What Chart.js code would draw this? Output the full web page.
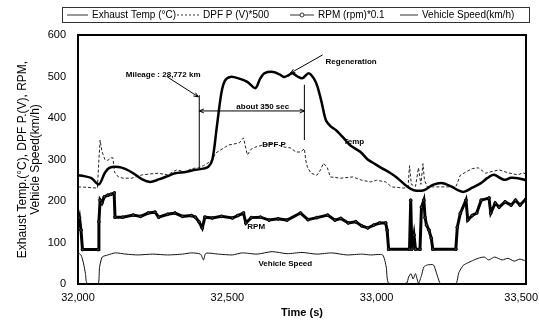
<!DOCTYPE html>
<html>
<head>
<meta charset="utf-8">
<script src="https://cdn.jsdelivr.net/npm/chart.js@4/dist/chart.umd.min.js"></script>
<style>
  html, body { margin: 0; padding: 0; background: #fff; }
  #wrap { width: 539px; height: 320px; }
</style>
</head>
<body>
<div id="wrap"><canvas id="regenChart" width="539" height="320"></canvas></div>
<script>
// valores (tempo em s)
const tempTime = [32000, 32020, 32045, 32070, 32090, 32105, 32135, 32160, 32185, 32215, 32242, 32270, 32300, 32325, 32360, 32393, 32420, 32436, 32450, 32465, 32480, 32492, 32510, 32540, 32567, 32594, 32610, 32625, 32654, 32675, 32690, 32705, 32718, 32735, 32752, 32772, 32790, 32802, 32815, 32830, 32846, 32865, 32889, 32910, 32946, 32970, 32990, 33015, 33047, 33070, 33100, 33124, 33158, 33188, 33221, 33250, 33272, 33292, 33320, 33349, 33370, 33393, 33426, 33450, 33473, 33500];
const tempVals = [262, 260, 255, 240, 268, 280, 282, 277, 267, 252, 246, 252, 260, 267, 270, 275, 278, 282, 300, 380, 460, 490, 499, 495, 487, 472, 495, 508, 511, 505, 499, 503, 508, 500, 496, 508, 495, 475, 440, 395, 380, 370, 352, 335, 318, 300, 291, 280, 267, 255, 236, 226, 226, 239, 243, 235, 226, 222, 232, 243, 255, 263, 251, 256, 255, 250];

const dpfTime = [32000, 32030, 32065, 32070, 32074, 32080, 32090, 32100, 32110, 32117, 32122, 32135, 32150, 32180, 32215, 32240, 32268, 32300, 32330, 32360, 32380, 32403, 32420, 32436, 32450, 32460, 32475, 32493, 32505, 32520, 32540, 32554, 32567, 32580, 32595, 32620, 32645, 32670, 32690, 32711, 32730, 32745, 32758, 32762, 32768, 32780, 32800, 32812, 32822, 32835, 32845, 32880, 32920, 32950, 32980, 33000, 33030, 33050, 33091, 33105, 33110, 33116, 33130, 33140, 33148, 33155, 33160, 33170, 33230, 33265, 33280, 33299, 33320, 33340, 33365, 33380, 33410, 33440, 33473, 33490, 33500];
const dpfVals = [234, 233, 231, 300, 347, 320, 300, 298, 304, 304, 270, 258, 255, 255, 263, 265, 267, 263, 275, 270, 278, 280, 285, 292, 300, 315, 322, 330, 335, 337, 340, 352, 311, 325, 330, 335, 338, 335, 330, 328, 318, 318, 326, 300, 282, 267, 262, 275, 291, 280, 258, 255, 258, 250, 246, 250, 246, 234, 231, 234, 285, 240, 235, 280, 240, 290, 250, 234, 234, 234, 262, 270, 278, 280, 267, 270, 275, 268, 263, 268, 265];

const rpmTime = [32000, 32005, 32010, 32015, 32067, 32070, 32074, 32080, 32088, 32100, 32110, 32121, 32124, 32150, 32185, 32210, 32235, 32258, 32270, 32300, 32325, 32350, 32380, 32393, 32405, 32416, 32425, 32450, 32480, 32517, 32535, 32554, 32562, 32580, 32611, 32640, 32670, 32700, 32745, 32770, 32800, 32836, 32860, 32880, 32905, 32930, 32950, 32970, 32990, 33010, 33030, 33035, 33040, 33110, 33114, 33118, 33125, 33130, 33145, 33150, 33158, 33162, 33167, 33175, 33183, 33188, 33265, 33270, 33280, 33299, 33305, 33320, 33335, 33350, 33376, 33382, 33397, 33410, 33430, 33450, 33465, 33480, 33500];
const rpmVals = [145, 160, 130, 83, 83, 150, 202, 195, 210, 214, 216, 219, 161, 161, 166, 163, 171, 173, 161, 168, 171, 163, 165, 161, 150, 135, 161, 159, 163, 159, 165, 171, 147, 160, 161, 154, 157, 154, 171, 155, 160, 166, 154, 158, 147, 150, 140, 135, 142, 147, 147, 130, 84, 84, 202, 84, 118, 84, 84, 185, 202, 160, 142, 130, 110, 84, 84, 137, 170, 202, 154, 165, 171, 202, 207, 171, 195, 185, 198, 190, 202, 190, 205];

const speedTime = [32000, 32010, 32018, 32025, 32030, 32067, 32072, 32081, 32100, 32125, 32160, 32200, 32250, 32300, 32350, 32380, 32410, 32420, 32428, 32470, 32517, 32550, 32600, 32650, 32700, 32750, 32800, 32850, 32900, 32950, 32980, 33020, 33032, 33040, 33100, 33107, 33115, 33122, 33130, 33140, 33150, 33158, 33170, 33190, 33200, 33210, 33215, 33265, 33275, 33290, 33305, 33320, 33340, 33360, 33375, 33395, 33420, 33440, 33460, 33480, 33500];
const speedVals = [75, 70, 51, 25, 2, 0, 40, 65, 70, 75, 72, 70, 72, 70, 72, 75, 72, 58, 74, 72, 70, 75, 72, 78, 73, 76, 72, 75, 70, 72, 70, 70, 41, 2, 2, 17, 25, 12, 25, 2, 20, 41, 46, 46, 27, 5, 0, 0, 27, 45, 51, 56, 62, 65, 58, 65, 58, 62, 55, 60, 55];

const xTicks = [32000, 32500, 33000, 33500];
const yTicks = [0, 100, 200, 300, 400, 500, 600];

function pares(ts, vs) {
    return ts.map((t, i) => ({ x: t, y: vs[i] }));
}

// legenda em caixa no topo
const legendaTopo = {
    id: 'legendaTopo',
    afterDraw(chart) {
        const ctx = chart.ctx;
        ctx.save();
        ctx.strokeStyle = '#333';
        ctx.lineWidth = 1;
        ctx.strokeRect(62.5, 7.5, 467, 15);
        ctx.font = '10px "Liberation Sans", Arial, sans-serif';
        ctx.fillStyle = '#000';
        ctx.textBaseline = 'middle';
        const itens = [
            { x: 67, w: 21, texto: 'Exhaust Temp (°C)', dash: [], mark: false },
            { x: 177, w: 22, texto: 'DPF P (V)*500', dash: [2, 2], mark: false },
            { x: 290, w: 24, texto: 'RPM (rpm)*0.1', dash: [], mark: true },
            { x: 400, w: 18, texto: 'Vehicle Speed(km/h)', dash: [], mark: false }
        ];
        itens.forEach(it => {
            ctx.beginPath();
            ctx.setLineDash(it.dash);
            ctx.moveTo(it.x, 15);
            ctx.lineTo(it.x + it.w, 15);
            ctx.stroke();
            ctx.setLineDash([]);
            if (it.mark) {
                ctx.beginPath();
                ctx.fillStyle = '#fff';
                ctx.arc(it.x + it.w / 2, 15, 2, 0, Math.PI * 2);
                ctx.fill();
                ctx.stroke();
                ctx.fillStyle = '#000';
            }
            ctx.fillText(it.texto, it.x + it.w + 4, 15.5);
        });
        ctx.restore();
    }
};

// anotações: setas, textos, moldura, rótulos do eixo x
const anotacoes = {
    id: 'anotacoes',
    afterDatasetsDraw(chart) {
        const ctx = chart.ctx;
        const xs = chart.scales.x, ys = chart.scales.y;
        const px = t => xs.getPixelForValue(t);
        const py = v => ys.getPixelForValue(v);
        const a = chart.chartArea;

        function seta(x1, y1, x2, y2) {
            ctx.beginPath();
            ctx.moveTo(x1, y1);
            ctx.lineTo(x2, y2);
            ctx.stroke();
            const ang = Math.atan2(y2 - y1, x2 - x1);
            ctx.beginPath();
            ctx.moveTo(x2, y2);
            ctx.lineTo(x2 - 5 * Math.cos(ang - 0.4), y2 - 5 * Math.sin(ang - 0.4));
            ctx.moveTo(x2, y2);
            ctx.lineTo(x2 - 5 * Math.cos(ang + 0.4), y2 - 5 * Math.sin(ang + 0.4));
            ctx.stroke();
        }

        ctx.save();
        ctx.strokeStyle = '#000';
        ctx.fillStyle = '#000';
        ctx.lineWidth = 1;

        // linhas verticais de início/fim da regeneração
        ctx.beginPath();
        ctx.moveTo(px(32406), py(455));
        ctx.lineTo(px(32406), py(280));
        ctx.moveTo(px(32758), py(480));
        ctx.lineTo(px(32758), py(347));
        ctx.stroke();

        // seta dupla ~350 s
        seta(px(32582), py(417), px(32406), py(417));
        seta(px(32582), py(417), px(32758), py(417));

        seta(px(32299), py(499), px(32403), py(451));
        seta(px(32819), py(552), px(32711), py(508));

        ctx.font = 'bold 8px "Liberation Sans", Arial, sans-serif';
        ctx.textBaseline = 'middle';
        ctx.textAlign = 'left';
        ctx.fillText('Mileage : 28,772 km', px(32160), py(504));
        ctx.fillText('Regeneration', px(32829), py(535));
        ctx.fillText('about 350 sec', px(32530), py(428));
        ctx.fillText('DPF P', px(32617), py(335));
        ctx.fillText('Temp', px(32889), py(342));
        ctx.fillText('RPM', px(32567), py(137));
        ctx.fillText('Vehicle Speed', px(32604), py(48));

        // rótulos do eixo x (o último não pode sair da tela)
        ctx.font = '11px "Liberation Sans", Arial, sans-serif';
        ctx.textBaseline = 'top';
        ctx.textAlign = 'center';
        xTicks.forEach(t => {
            const txt = t.toLocaleString('en-US');
            const w = ctx.measureText(txt).width;
            const cx = Math.min(px(t), chart.width - 1 - w / 2);
            ctx.fillText(txt, cx, a.bottom + 8);
        });

        // moldura
        ctx.lineWidth = 2;
        ctx.strokeRect(a.left, a.top, a.right - a.left, a.bottom - a.top);
        ctx.restore();
    }
};

document.addEventListener('DOMContentLoaded', function () {
    const ctx = document.getElementById('regenChart').getContext('2d');
    new Chart(ctx, {
        type: 'line',
        data: {
            datasets: [{
                label: 'Exhaust Temp (°C)',
                data: pares(tempTime, tempVals),
                borderColor: '#000',
                borderWidth: 2.5,
                pointRadius: 0,
                tension: 0.3
            }, {
                label: 'DPF P (V)*500',
                data: pares(dpfTime, dpfVals),
                borderColor: '#222',
                borderWidth: 1,
                borderDash: [3, 2],
                pointRadius: 0,
                tension: 0
            }, {
                label: 'RPM (rpm)*0.1',
                data: pares(rpmTime, rpmVals),
                borderColor: '#000',
                borderWidth: 3,
                pointRadius: 1.4,
                pointBackgroundColor: '#444',
                pointBorderColor: '#000',
                pointBorderWidth: 1,
                tension: 0
            }, {
                label: 'Vehicle Speed(km/h)',
                data: pares(speedTime, speedVals),
                borderColor: '#111',
                borderWidth: 1,
                pointRadius: 0,
                tension: 0.2
            }]
        },
        options: {
            responsive: false,
            animation: false,
            layout: { padding: { top: 35, right: 13, left: 0, bottom: 0 } },
            plugins: { legend: { display: false }, tooltip: { enabled: false } },
            scales: {
                x: {
                    type: 'linear',
                    min: 32000,
                    max: 33500,
                    afterBuildTicks: axis => { axis.ticks = xTicks.map(v => ({ value: v })); },
                    afterFit: axis => {
                        axis.height = 36;
                        axis.paddingLeft = 0;
                        axis.paddingRight = 0;
                    },
                    grid: { display: false, drawTicks: false },
                    border: { display: false },
                    ticks: { display: false },
                    title: {
                        display: true,
                        text: 'Time (s)',
                        color: '#000',
                        padding: { top: 0, bottom: 0 },
                        font: { family: '"Liberation Sans", Arial', size: 11, weight: 'bold' }
                    }
                },
                y: {
                    min: 0,
                    max: 600,
                    afterBuildTicks: axis => { axis.ticks = yTicks.map(v => ({ value: v })); },
                    afterFit: axis => {
                        axis.width = 78;
                        axis.paddingTop = 0;
                        axis.paddingBottom = 0;
                    },
                    grid: { display: false, drawTicks: false },
                    border: { display: false },
                    ticks: {
                        color: '#000',
                        padding: 12,
                        font: { family: '"Liberation Sans", Arial', size: 11 }
                    },
                    title: {
                        display: true,
                        text: ['Exhaust Temp.(°C), DPF P.(V), RPM,', 'Vehicle Speed(km/h)'],
                        color: '#000',
                        padding: { top: 16, bottom: 0 },
                        font: { family: '"Liberation Sans", Arial', size: 12, lineHeight: 1.1 }
                    }
                }
            }
        },
        plugins: [anotacoes, legendaTopo]
    });
});
</script>
</body>
</html>
